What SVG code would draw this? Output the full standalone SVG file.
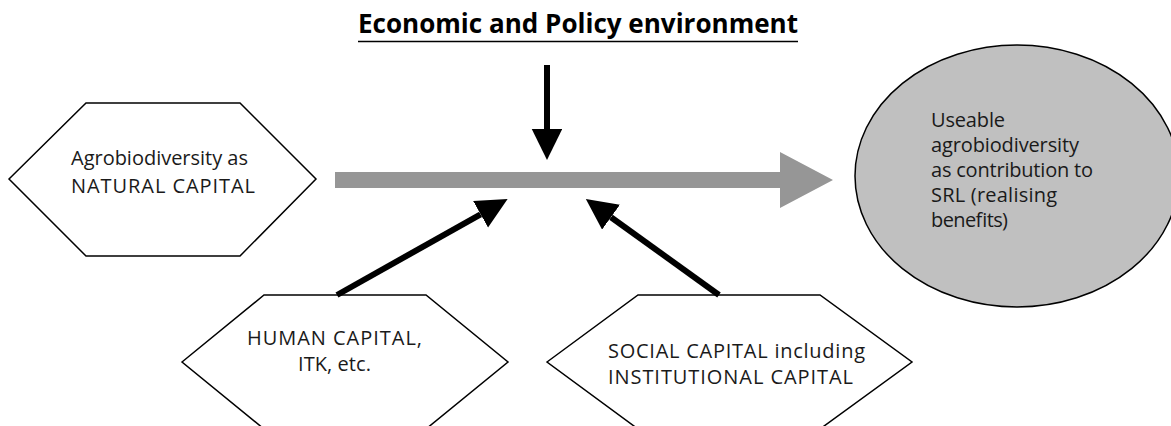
<svg xmlns="http://www.w3.org/2000/svg" width="1171" height="426" viewBox="0 0 1171 426">
  <style>
    .hex { fill: #ffffff; stroke: #000000; stroke-width: 1.5; stroke-linejoin: miter; }
    .oval { fill: #c0c0c0; stroke: #000000; stroke-width: 1.5; }
    .lbl { font-family: "Open Sans", "Liberation Sans", sans-serif; font-size: 20px; fill: #1a1a1a; }
    .title { font-family: "Open Sans", "Liberation Sans", sans-serif; font-size: 26px; font-weight: bold; fill: #000000; }
    .blk { stroke: #000000; stroke-width: 6; fill: none; marker-end: url(#head); }
  </style>
  <defs>
    <marker id="head" markerUnits="userSpaceOnUse" markerWidth="32" markerHeight="31" refX="0" refY="15.25" orient="auto">
      <path d="M0,0 L31,15.25 L0,30.5 Z" fill="#000000"/>
    </marker>
  </defs>

  <rect width="1171" height="426" fill="#ffffff"/>

  <g id="economic-policy-environment">
    <text class="title" x="358" y="33" textLength="440" lengthAdjust="spacingAndGlyphs">Economic and Policy environment</text>
    <line x1="358" y1="41.5" x2="798" y2="41.5" stroke="#000000" stroke-width="1.6"/>
  </g>

  <g id="natural-capital">
    <polygon class="hex" points="9,179 86,103 240,103 316,179 240,256 86,256"/>
    <text class="lbl" x="71" y="165" textLength="177">Agrobiodiversity as</text>
    <text class="lbl" x="71" y="193" textLength="184">NATURAL CAPITAL</text>
  </g>

  <g id="human-capital">
    <polygon class="hex" points="182,362 264,295 426,295 508,362 426,429 264,429"/>
    <text class="lbl" x="247" y="345" textLength="175">HUMAN CAPITAL,</text>
    <text class="lbl" x="298" y="371" textLength="73">ITK, etc.</text>
  </g>

  <g id="social-capital">
    <polygon class="hex" points="547,362 638,295 820,295 912,362 820,429 638,429"/>
    <text class="lbl" x="608" y="358" textLength="257">SOCIAL CAPITAL including</text>
    <text class="lbl" x="608" y="384" textLength="245">INSTITUTIONAL CAPITAL</text>
  </g>

  <g id="useable-agrobiodiversity">
    <ellipse class="oval" cx="1017" cy="176" rx="162" ry="131"/>
    <text class="lbl" x="931" y="127" textLength="74">Useable</text>
    <text class="lbl" x="931" y="152" textLength="148">agrobiodiversity</text>
    <text class="lbl" x="931" y="177" textLength="162">as contribution to</text>
    <text class="lbl" x="931" y="202" textLength="126">SRL (realising</text>
    <text class="lbl" x="931" y="227" textLength="77">benefits)</text>
  </g>

  <g id="connectors">
    <path id="main-flow" d="M335,172 H780 V152 L833,180 L780,208 V188 H335 Z" fill="#969696"/>
    <line class="blk" x1="547" y1="65" x2="547" y2="129"/>
    <line class="blk" x1="337" y1="295" x2="480.6" y2="214.3"/>
    <line class="blk" x1="719" y1="295" x2="611" y2="217.2"/>
  </g>
</svg>
